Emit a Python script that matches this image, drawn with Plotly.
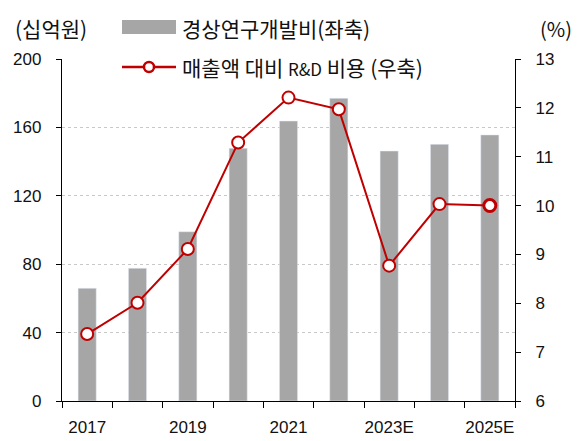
import plotly.graph_objects as go

categories = ["2017", "2018", "2019", "2020", "2021", "2022", "2023E", "2024E", "2025E"]
tick_labels = ["2017", "", "2019", "", "2021", "", "2023E", "", "2025E"]
rd_expense = [65.9, 77.6, 99.0, 147.8, 163.7, 177.0, 146.2, 150.1, 155.6]
rd_ratio = [7.37, 8.01, 9.11, 11.29, 12.21, 11.97, 8.77, 10.03, 10.0]

bar_name = "경상연구개발비(좌축)"
line_name = "매출액 대비 <span style='font-size:17px'>R&D</span> 비용 (우축)"
left_unit = "(십억원)"
right_unit = "(%)"

RED = "#C00000"
GREY = "#A6A6A6"
KFONT = "Noto Sans CJK KR"
NFONT = "Liberation Sans, Noto Sans CJK KR"

fig = go.Figure()
fig.add_trace(go.Bar(x=categories, y=rd_expense, name=bar_name, marker_color=GREY,
                     width=0.36, showlegend=False, yaxis="y"))
fig.add_trace(go.Scatter(x=categories, y=rd_ratio, name="매출액 대비 R&D 비용 (우축)",
                         mode="lines+markers",
                         line=dict(color=RED, width=2),
                         marker=dict(size=12, color="white",
                                     line=dict(color=RED, width=[2, 2, 2, 2, 2, 2, 2, 2, 3])),
                         showlegend=False, yaxis="y2", cliponaxis=False))

# plot area: x 62..515, y 59..401
W, H = 581, 441
L, R, T, B = 62, 66, 59, 40
pw, ph = W - L - R, H - T - B

def px(x):
    return (x - L) / pw

def py(y):
    return (H - B - y) / ph

shapes = [
    dict(type="rect", xref="paper", yref="paper", x0=px(122), x1=px(176), y0=py(34), y1=py(20),
         fillcolor=GREY, line=dict(width=0)),
    dict(type="line", xref="paper", yref="paper", x0=px(122), x1=px(176), y0=py(67), y1=py(67),
         line=dict(color=RED, width=2.5)),
    dict(type="circle", xref="paper", yref="paper", x0=px(144), x1=px(154), y0=py(72), y1=py(62),
         fillcolor="white", line=dict(color=RED, width=2.5)),
]

annotations = [
    dict(text=bar_name, xref="paper", yref="paper", x=px(180), y=py(28), xanchor="left",
         yanchor="middle", showarrow=False, font=dict(family=KFONT, size=21, color="#111")),
    dict(text=line_name, xref="paper", yref="paper", x=px(180), y=py(67), xanchor="left",
         yanchor="middle", showarrow=False, font=dict(family=KFONT, size=21, color="#111")),
    dict(text=left_unit, xref="paper", yref="paper", x=px(13), y=py(28), xanchor="left",
         yanchor="middle", showarrow=False, font=dict(family=KFONT, size=21, color="#111")),
    dict(text=right_unit, xref="paper", yref="paper", x=px(574), y=py(28), xanchor="right",
         yanchor="middle", showarrow=False, font=dict(family=KFONT, size=20, color="#111")),
]

fig.update_layout(
    width=W, height=H,
    margin=dict(l=L, r=R, t=T, b=B, pad=0, autoexpand=False),
    paper_bgcolor="white", plot_bgcolor="white",
    showlegend=False,
    font=dict(family=NFONT, size=17, color="#111"),
    xaxis=dict(type="category", categoryorder="array", categoryarray=categories,
               tickvals=categories, ticktext=tick_labels, tickson="boundaries",
               ticks="outside", ticklen=6, tickwidth=1.3, tickcolor="black", tickangle=0,
               showline=True, linecolor="black", linewidth=1.3, showgrid=False,
               ticklabelstandoff=10, range=[-0.5, 8.5], automargin=False),
    yaxis=dict(range=[0, 200], dtick=40, tick0=0, ticks="outside", ticklen=5, tickwidth=1.3,
               tickcolor="black", showline=True, linecolor="black", linewidth=1.3,
               showgrid=True, gridcolor="#C8C8C8", griddash="dot", gridwidth=1.3,
               zeroline=False, ticklabelstandoff=11, automargin=False),
    yaxis2=dict(range=[6, 13], dtick=1, tick0=6, overlaying="y", side="right",
                ticks="outside", ticklen=5, tickwidth=1.3, tickcolor="black",
                showline=True, linecolor="black", linewidth=1.3, showgrid=False,
                zeroline=False, ticklabelstandoff=11, automargin=False),
    shapes=shapes,
    annotations=annotations,
)

fig.write_html("out.html", config={"displayModeBar": False},
               post_script="document.body.style.margin='0';document.body.style.padding='0';")
